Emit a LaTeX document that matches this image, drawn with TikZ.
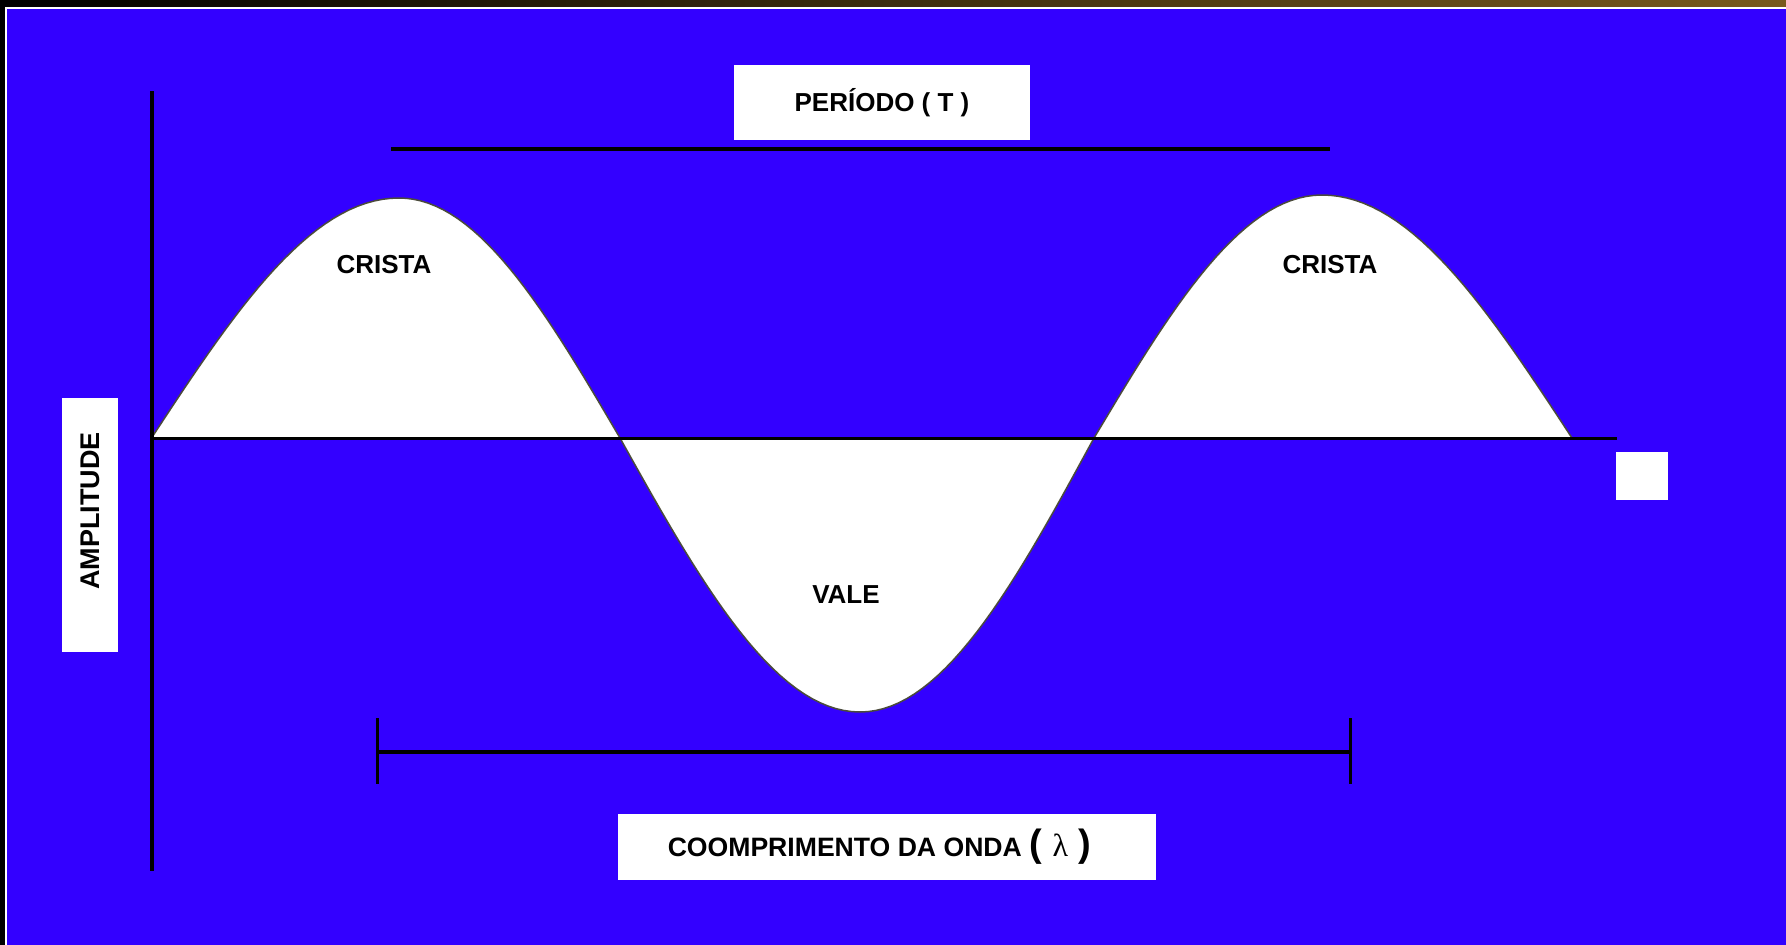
\documentclass[tikz,border=0pt]{standalone}
\usepackage{fontspec}
\setmainfont{Liberation Sans}
\newfontfamily\seriffont{Liberation Serif}
\definecolor{bgblue}{RGB}{51,0,255}
\definecolor{edgegray}{RGB}{75,75,60}
\definecolor{bandgreen}{RGB}{40,95,15}
\definecolor{bandbrown}{RGB}{120,90,30}
\begin{document}
\begin{tikzpicture}[x=1pt,y=-1pt,
  lbl/.style={font=\fontsize{26}{30}\selectfont\bfseries, text=black},
  whitebox/.style={fill=white, draw=none, inner sep=0pt, lbl},
  axisline/.style={line width=3.5pt, black},
  barline/.style={line width=3.5pt, black}]
\useasboundingbox (0,0) rectangle (1786,945);
% background
\fill[black] (0,0) rectangle (1786,945);
\shade[left color=black, middle color=bandgreen, right color=bandbrown] (0,0) rectangle (1786,7);
\fill[white] (5,7) rectangle (1786,945);
\fill[bgblue] (7,9) rectangle (1786,945);
% wave (quarter-sine pieces)
\filldraw[fill=white, draw=edgegray, line width=1.5pt]
  plot[variable=\t, domain=0:90, samples=31] ({151.5+\t/90*247.5},{438-240*sin(\t)})
  -- plot[variable=\t, domain=0:90, samples=31] ({399+\t/90*221},{198+240*(1-cos(\t))})
  -- plot[variable=\t, domain=0:90, samples=31] ({620+\t/90*240},{438+274*sin(\t)})
  -- plot[variable=\t, domain=0:90, samples=31] ({860+\t/90*234},{712-274*(1-cos(\t))})
  -- plot[variable=\t, domain=0:90, samples=31] ({1094+\t/90*228},{438-243*sin(\t)})
  -- plot[variable=\t, domain=0:90, samples=31] ({1322+\t/90*250},{195+243*(1-cos(\t))})
  -- cycle;
% axes
\coordinate (ytop) at (152,91);
\coordinate (ybot) at (152,871);
\coordinate (xleft) at (152,438);
\coordinate (xright) at (1617,438);
\draw[axisline] (ytop) -- (ybot);
\draw[line width=3pt] (xleft) -- (xright);
% period line
\coordinate (p1) at (391,149);
\coordinate (p2) at (1330,149);
\draw[barline] (p1) -- (p2);
% wavelength bar
\coordinate (w1) at (377,752);
\coordinate (w2) at (1350,752);
\coordinate (w1t) at (377,718);
\coordinate (w1b) at (377,784);
\coordinate (w2t) at (1350,718);
\coordinate (w2b) at (1350,784);
\draw[barline] (w1) -- (w2);
\draw[line width=3pt] (w1t) -- (w1b);
\draw[line width=3pt] (w2t) -- (w2b);
% boxes
\node[whitebox, minimum width=296pt, minimum height=75pt] (per) at (882,102.5) {PERÍODO ( T )};
\node[whitebox, minimum width=538pt, minimum height=66pt, font=\fontsize{26.6}{30}\selectfont\bfseries] (lam) at (887,847)
  {COOMPRIMENTO DA ONDA {\fontsize{38}{40}\selectfont( {\seriffont\mdseries\fontsize{32}{34}\selectfont λ} )}\hspace*{15pt}};
\node[whitebox, rotate=90, minimum width=254pt, minimum height=56pt, font=\fontsize{27}{30}\selectfont\bfseries] (amp) at (90,525) {\hspace*{28pt}AMPLITUDE};
\node[whitebox, minimum width=52pt, minimum height=48pt] (sq) at (1642,475.5) {};
% labels
\node[lbl] (c1) at (384,265) {CRISTA};
\node[lbl] (c2) at (1330,265) {CRISTA};
\node[lbl] (v) at (846,595) {VALE};
\end{tikzpicture}
\end{document}
